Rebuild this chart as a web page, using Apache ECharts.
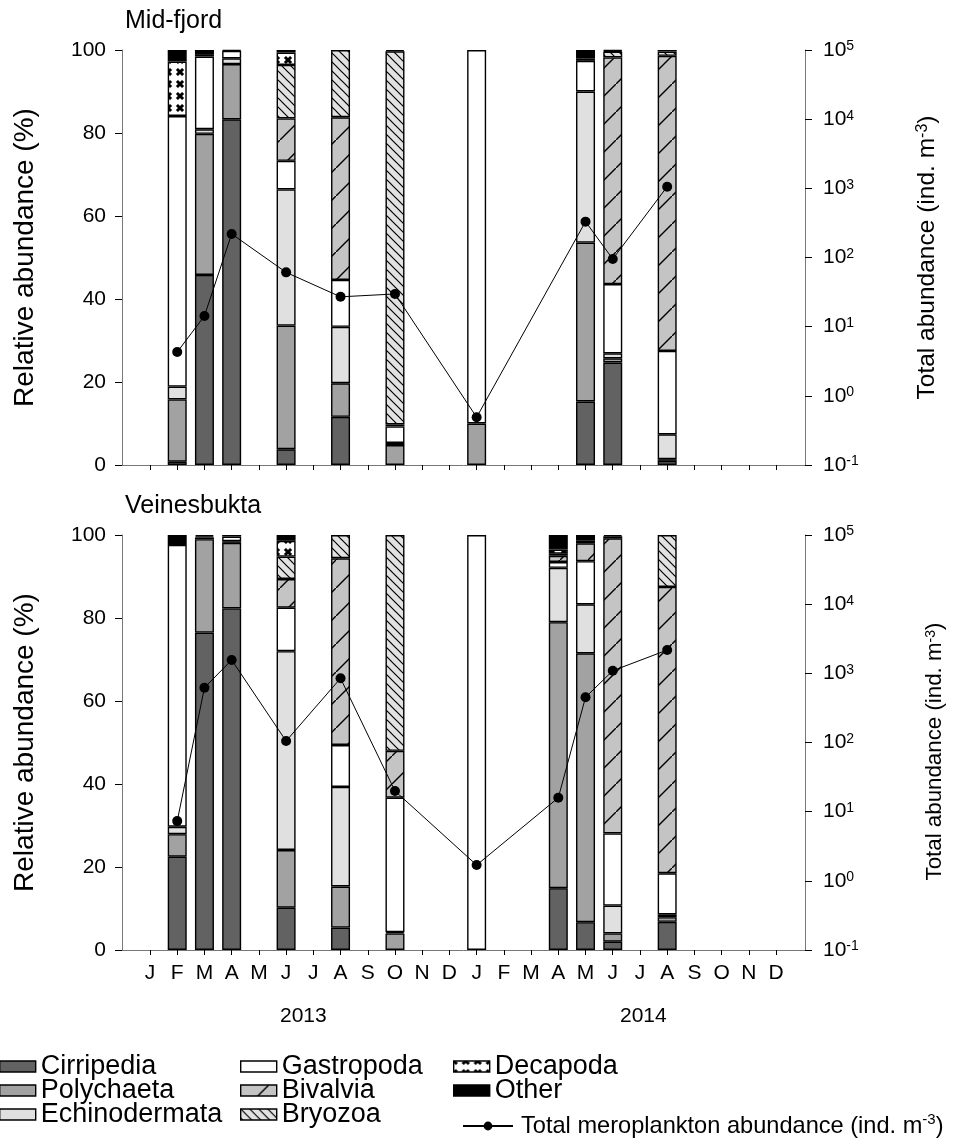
<!DOCTYPE html>
<html><head><meta charset="utf-8">
<script src="https://cdn.jsdelivr.net/npm/echarts@6/dist/echarts.min.js"></script>
<style>html,body{margin:0;padding:0;background:#fff}#c{width:965px;height:1140px}</style>
</head><body><div id="c"></div>
<script>
// ---------- DATA ----------
const months = ['J','F','M','A','M','J','J','A','S','O','N','D','J','F','M','A','M','J','J','A','S','O','N','D'];
const years = ['2013','2014'];
const taxa = ['Cirripedia','Polychaeta','Echinodermata','Gastropoda','Bivalvia','Bryozoa','Decapoda','Other'];
const lineName = 'Total meroplankton abundance (ind. m-3)';
const leftTicks = [0,20,40,60,80,100];
const rightTicks = [0.1,1,10,100,1000,10000,100000];

// Mid-fjord: sampling months (index 0 = Jan 2013)
const midMonths        = [1, 2, 3, 5, 7, 9, 12, 16, 17, 19];
const midCirripedia    = [0.8, 45.8, 83.3, 3.8, 11.6, 0, 0, 15.3, 24.7, 1.0];
const midPolychaeta    = [15.0, 34.0, 13.3, 29.8, 8.1, 4.8, 10.0, 38.3, 1.0, 0.4];
const midEchinodermata = [3.1, 1.1, 1.4, 32.8, 13.6, 0.5, 0, 36.4, 1.2, 6.0];
const midGastropoda    = [65.2, 17.5, 1.8, 6.9, 11.3, 4.0, 90.0, 7.4, 16.7, 20.1];
const midBivalvia      = [0, 0, 0, 10.2, 39.2, 0.5, 0, 0, 54.6, 71.1];
const midBryozoa       = [0, 0, 0, 12.9, 16.2, 89.9, 0, 0, 1.4, 1.0];
const midDecapoda      = [13.1, 0.6, 0, 3.0, 0, 0, 0, 0.6, 0.2, 0];
const midOther         = [2.8, 1.0, 0.2, 0.6, 0, 0.3, 0, 2.0, 0.2, 0.4];
const midTotal         = [4.3, 14.3, 219, 61, 27, 29.7, 0.49, 330, 95, 1057];

// Veinesbukta
const veiMonths        = [1, 2, 3, 5, 7, 9, 12, 15, 16, 17, 19];
const veiCirripedia    = [22.5, 76.5, 82.3, 10.2, 5.4, 0, 0, 14.9, 6.7, 2.0, 6.8];
const veiPolychaeta    = [5.4, 22.5, 15.8, 13.9, 9.9, 4.0, 0, 64.1, 64.8, 2.0, 1.1];
const veiEchinodermata = [1.8, 0.4, 0.4, 47.9, 24.0, 0.3, 0, 13.1, 11.8, 6.7, 0.7];
const veiGastropoda    = [67.9, 0.3, 1.1, 10.5, 10.1, 32.4, 100, 1.4, 10.4, 17.4, 9.9];
const veiBivalvia      = [0, 0, 0, 6.9, 45.0, 11.3, 0, 1.5, 4.3, 71.1, 69.0];
const veiBryozoa       = [0, 0, 0, 5.4, 5.6, 52.0, 0, 0.5, 0, 0.5, 12.5];
const veiDecapoda      = [0, 0, 0, 3.8, 0, 0, 0, 1.0, 0.6, 0, 0];
const veiOther         = [2.4, 0.3, 0.4, 1.4, 0, 0, 0, 3.5, 1.4, 0.3, 0];
const veiTotal         = [7.3, 620, 1560, 105, 847, 19.9, 1.69, 15.9, 450, 1090, 2170];

// ---------- STYLE ----------
const FONT = 'Liberation Sans';
function tile(w, h, bg, draw) {
  const c = document.createElement('canvas'); c.width = w; c.height = h;
  const g = c.getContext('2d'); g.fillStyle = bg; g.fillRect(0, 0, w, h);
  g.strokeStyle = '#000'; g.fillStyle = '#000'; draw(g, w, h);
  return { image: c, repeat: 'repeat' };
}
const fillBivalvia = tile(28, 28, '#c4c4c4', (g, w, h) => {
  g.lineWidth = 1.4;
  g.beginPath(); g.moveTo(-2, h + 2); g.lineTo(w + 2, -2); g.stroke();
});
const fillBryozoa = tile(9, 9, '#e2e2e2', (g, w, h) => {
  g.lineWidth = 1.2;
  g.beginPath(); g.moveTo(-2, -2); g.lineTo(w + 2, h + 2); g.stroke();
  g.beginPath(); g.moveTo(-2, h - 2); g.lineTo(2, h + 2); g.stroke();
  g.beginPath(); g.moveTo(w - 2, -2); g.lineTo(w + 2, 2); g.stroke();
});
const fillDecapoda = tile(12, 12, '#fff', (g, w, h) => {
  g.lineWidth = 3;
  g.beginPath(); g.moveTo(-1, -1); g.lineTo(w + 1, h + 1); g.stroke();
  g.beginPath(); g.moveTo(w + 1, -1); g.lineTo(-1, h + 1); g.stroke();
  g.fillStyle = '#fff'; g.beginPath(); g.arc(w / 2, h / 2, 4.3, 0, Math.PI * 2); g.fill();
});
const colors = {
  Cirripedia: '#626262', Polychaeta: '#a2a2a2', Echinodermata: '#e0e0e0', Gastropoda: '#ffffff',
  Bivalvia: fillBivalvia, Bryozoa: fillBryozoa, Decapoda: fillDecapoda, Other: '#000000'
};

// ---------- LAYOUT ----------
const plotL = 122, plotR = 805, step = 27.22;
const innerL = 150 - step / 2, innerW = step * 24;
const panels = [
  { title: 'Mid-fjord', top: 50, stack: 'mid', monthsIdx: midMonths,
    values: [midCirripedia, midPolychaeta, midEchinodermata, midGastropoda, midBivalvia, midBryozoa, midDecapoda, midOther],
    total: midTotal, showMonths: false, rightNameSize: 24.5, rightGap: 110, rightShift: 0 },
  { title: 'Veinesbukta', top: 535, stack: 'vei', monthsIdx: veiMonths,
    values: [veiCirripedia, veiPolychaeta, veiEchinodermata, veiGastropoda, veiBivalvia, veiBryozoa, veiDecapoda, veiOther],
    total: veiTotal, showMonths: true, rightNameSize: 22.3, rightGap: 119, rightShift: 18 }
];
const H = 415;

const grid = [], xAxis = [], yAxis = [], series = [], title = [];

panels.forEach((p, pi) => {
  const gOuter = grid.length;
  grid.push({ left: plotL, width: plotR - plotL, top: p.top, height: H });
  grid.push({ left: innerL, width: innerW, top: p.top, height: H });
  const gInner = gOuter + 1;
  title.push({ text: p.title, left: plotL, top: p.top - 46, padding: [5, 5, 5, 3],
    textStyle: { fontFamily: FONT, fontSize: 25, fontWeight: 'normal', color: '#000' } });

  xAxis.push({ gridIndex: gOuter, type: 'value', min: 0, max: 1,
    axisLine: { show: true, lineStyle: { color: '#777', width: 1 } },
    axisTick: { show: false }, axisLabel: { show: false }, splitLine: { show: false } });
  yAxis.push({ gridIndex: gOuter, type: 'value', min: leftTicks[0], max: leftTicks[leftTicks.length - 1], interval: 20,
    position: 'left',
    name: 'Relative abundance (%)', nameLocation: 'middle', nameRotate: 90, nameGap: 83,
    nameTextStyle: { fontFamily: FONT, fontSize: 28, color: '#000' },
    axisLine: { show: true, lineStyle: { color: '#777', width: 1 } },
    axisTick: { show: true, inside: false, length: 7, lineStyle: { color: '#000' } },
    axisLabel: { fontFamily: FONT, fontSize: 21, color: '#000', margin: 16 },
    splitLine: { show: false } });
  yAxis.push({ gridIndex: gOuter, type: 'log', logBase: 10, min: rightTicks[0], max: rightTicks[rightTicks.length - 1],
    position: 'right',
    name: 'Total abundance (ind. m{s|-3})', nameLocation: 'middle', nameRotate: 90, nameGap: p.rightGap,
    nameTextStyle: { fontFamily: FONT, fontSize: p.rightNameSize, color: '#000', padding: [0, p.rightShift, 0, 0],
      rich: { s: { fontSize: Math.round(p.rightNameSize * 0.65), fontFamily: FONT, verticalAlign: 'top', color: '#000' } } },
    axisLine: { show: true, lineStyle: { color: '#777', width: 1 } },
    axisTick: { show: true, inside: false, length: 7, lineStyle: { color: '#000' } },
    axisLabel: { margin: 18, color: '#000',
      formatter: v => '{b|10}{s|' + Math.round(Math.log10(v)) + '}',
      rich: { b: { fontFamily: FONT, fontSize: 21, color: '#000' }, s: { fontFamily: FONT, fontSize: 14, color: '#000', verticalAlign: 'top' } } },
    splitLine: { show: false } });

  const xi = xAxis.length;
  xAxis.push({ gridIndex: gInner, type: 'category', data: months, boundaryGap: true,
    axisLine: { show: false },
    axisTick: { show: true, alignWithLabel: true, inside: false, length: 5, lineStyle: { color: '#000' } },
    axisLabel: { show: p.showMonths, interval: 0, fontFamily: FONT, fontSize: 21, color: '#000', margin: 13 } });
  const yb = yAxis.length;
  yAxis.push({ gridIndex: gInner, type: 'value', min: 0, max: 100, show: false });
  yAxis.push({ gridIndex: gInner, type: 'log', logBase: 10, min: rightTicks[0], max: rightTicks[rightTicks.length - 1], show: false });

  taxa.forEach((t, ti) => {
    const arr = months.map(() => null);
    p.monthsIdx.forEach((m, k) => { const v = p.values[ti][k]; arr[m] = v > 0 ? v : null; });
    series.push({ name: t, type: 'bar', stack: p.stack, xAxisIndex: xi, yAxisIndex: yb,
      barWidth: 19, data: arr, legendHoverLink: false,
      itemStyle: { color: colors[t], borderColor: '#000', borderWidth: 1.4 },
      emphasis: { disabled: true } });
  });
  const tot = months.map(() => null);
  p.monthsIdx.forEach((m, k) => { tot[m] = p.total[k]; });
  series.push({ name: lineName, type: 'line', xAxisIndex: xi, yAxisIndex: yb + 1, data: tot,
    connectNulls: true, symbol: 'circle', symbolSize: 10, z: 10,
    lineStyle: { color: '#000', width: 1 }, itemStyle: { color: '#000' }, emphasis: { disabled: true } });
});

const legText = { fontFamily: FONT, fontSize: 27, color: '#000', lineHeight: 25 };
const legBase = { orient: 'vertical', icon: 'rect', itemWidth: 36, itemHeight: 11, itemGap: -3, padding: 0, top: 1053,
  selectedMode: false, textStyle: legText, itemStyle: { borderColor: '#000', borderWidth: 1.4 } };
const legend = [
  Object.assign({}, legBase, { left: -1, data: taxa.slice(0, 3) }),
  Object.assign({}, legBase, { left: 240, data: taxa.slice(3, 6) }),
  Object.assign({}, legBase, { left: 453, data: taxa.slice(6, 8) }),
  { orient: 'vertical', padding: 0, left: 462, top: 1112, itemWidth: 50, itemHeight: 11, selectedMode: false,
    data: [lineName],
    formatter: () => 'Total meroplankton abundance (ind. m{s|-3})',
    textStyle: { fontFamily: FONT, fontSize: 23.6, color: '#000', lineHeight: 28, padding: [0, 0, 0, 3],
      rich: { s: { fontFamily: FONT, fontSize: 15, verticalAlign: 'top', color: '#000' } } } }
];

const graphic = years.map((y, i) => ({
  type: 'text', left: i === 0 ? 280 : 620, top: 1006,
  style: { text: y, font: '21px "' + FONT + '"', fill: '#000' }
}));

const chart = echarts.init(document.getElementById('c'), null, { renderer: 'canvas' });
chart.setOption({ animation: false, backgroundColor: '#fff', title, grid, xAxis, yAxis, series, legend, graphic });
</script></body></html>
